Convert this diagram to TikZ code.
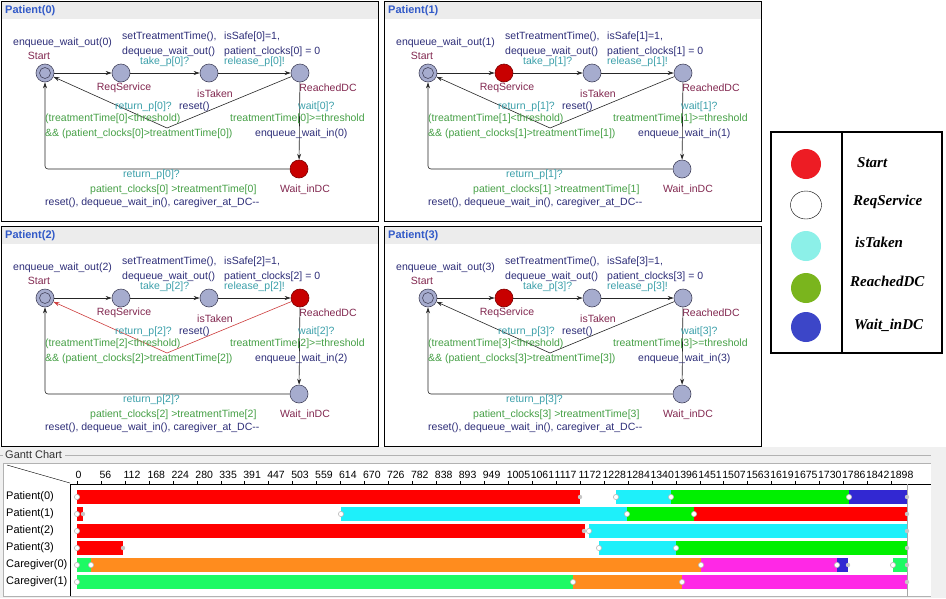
\documentclass[tikz,border=0pt]{standalone}
\usepackage{fontspec}
\setmainfont{Liberation Sans}
\newfontfamily\legendfont{Liberation Serif}
\usetikzlibrary{arrows.meta, positioning, shapes.geometric}

\definecolor{locfill}{RGB}{166,172,206}
\definecolor{locdraw}{RGB}{70,70,95}
\definecolor{activefill}{RGB}{200,0,0}
\definecolor{activedraw}{RGB}{125,0,0}
\definecolor{namecol}{RGB}{130,40,80}
\definecolor{assigncol}{RGB}{45,45,120}
\definecolor{synccol}{RGB}{60,160,170}
\definecolor{guardcol}{RGB}{70,160,70}
\definecolor{titlecol}{RGB}{50,90,200}
\definecolor{retred}{RGB}{205,60,60}
\definecolor{legred}{RGB}{237,28,36}
\definecolor{legcyan}{RGB}{140,240,232}
\definecolor{leggreen}{RGB}{122,181,29}
\definecolor{legblue}{RGB}{60,70,200}
\definecolor{gred}{RGB}{255,0,0}
\definecolor{gcyan}{RGB}{30,240,250}
\definecolor{ggreen}{RGB}{0,240,0}
\definecolor{gblue}{RGB}{50,40,210}
\definecolor{gorange}{RGB}{255,140,30}
\definecolor{gmagenta}{RGB}{255,40,230}
\definecolor{gspring}{RGB}{30,250,100}
\definecolor{ganttbg}{RGB}{240,240,240}

% one automaton panel: index, shift, ReqService / ReachedDC / Wait_inDC style, return edge style
\newcommand{\patientpanel}[6]{%
\begin{scope}[shift={#2}]
  \draw[panelbox] (1,1) rectangle (378,221);
  \fill[gray!15] (1.5,1.5) rectangle (377.5,19);
  \node[paneltitle] (title#1) at (5,11) {Patient(#1)};
  % locations
  \node[loc] (start#1) at (45,73) {};
  \node[loc, fill=none, minimum size=11pt] (starti#1) at (45,73) {};
  \node[loc, #3] (req#1) at (121,73) {};
  \node[loc] (taken#1) at (209,73) {};
  \node[loc, #4] (dc#1) at (300,73) {};
  \node[loc, #5] (wait#1) at (299,169) {};
  \coordinate (nail#1) at (167,128);
  \node[locname] (nstart#1) at (39,56) {Start};
  \node[locname] (nreq#1) at (124,88) {ReqService};
  \node[locname] (ntaken#1) at (215,94) {isTaken};
  \node[locname] (ndc#1) at (328,88) {ReachedDC};
  \node[locname] (nwait#1) at (305,190) {Wait\_inDC};
  % transitions
  \draw[trans] (start#1) -- (req#1);
  \draw[trans] (req#1) -- (taken#1);
  \draw[trans] (taken#1) -- (dc#1);
  \draw[trans] (dc#1) -- (wait#1);
  \draw[trans, #6] (dc#1) -- (nail#1) -- (start#1);
  \draw[trans, rounded corners=3pt] (wait#1) -| (start#1);
  % labels
  \node[assign] (inv#1) at (13,43) {enqueue\_wait\_out(#1)};
  \node[assign] (updA#1) at (122,37) {setTreatmentTime(),};
  \node[assign] (updB#1) at (122,52) {dequeue\_wait\_out()};
  \node[sync] (take#1) at (140,62) {take\_p[#1]?};
  \node[assign] (updC#1) at (224,37) {isSafe[#1]=1,};
  \node[assign] (updD#1) at (224,52) {patient\_clocks[#1] = 0};
  \node[sync] (rel#1) at (224,62) {release\_p[#1]!};
  \node[sync] (retA#1) at (115,107) {return\_p[#1]?};
  \node[assign] (rst#1) at (179,107) {reset()};
  \node[guard] (guardA#1) at (45,119) {(treatmentTime[#1]<threshold)};
  \node[guard] (guardB#1) at (45,134) {\&\& (patient\_clocks[#1]>treatmentTime[#1])};
  \node[sync] (wt#1) at (298,107) {wait[#1]?};
  \node[guard] (guardC#1) at (230,119) {treatmentTime[#1]>=threshold};
  \node[assign] (enq#1) at (255,134) {enqueue\_wait\_in(#1)};
  \node[sync] (retB#1) at (123,175) {return\_p[#1]?};
  \node[guard] (guardD#1) at (90,190) {patient\_clocks[#1] >treatmentTime[#1]};
  \node[assign] (updE#1) at (45,203) {reset(), dequeue\_wait\_in(), caregiver\_at\_DC{-}{-}};
\end{scope}}

\begin{document}
\begin{tikzpicture}[x=1pt, y=-1pt, font=\fontsize{10.5}{12}\selectfont,
  panelbox/.style={draw=black, line width=1pt, fill=white},
  paneltitle/.style={anchor=west, inner sep=0pt, text=titlecol, font=\fontsize{11}{12}\selectfont\bfseries},
  loc/.style={circle, draw=locdraw, fill=locfill, line width=0.6pt, minimum size=18pt, inner sep=0pt},
  activeloc/.style={fill=activefill, draw=activedraw},
  locname/.style={inner sep=0pt, text=namecol},
  lbl/.style={inner sep=0pt, anchor=west},
  assign/.style={lbl, text=assigncol},
  sync/.style={lbl, text=synccol},
  guard/.style={lbl, text=guardcol},
  trans/.style={draw=black!85, line width=0.6pt, -{Stealth[length=6pt, width=4pt]}},
  legdot/.style={circle, minimum size=30pt, inner sep=0pt},
  legtext/.style={anchor=west, inner sep=0pt, font=\legendfont\bfseries\itshape\fontsize{15}{16}\selectfont},
  rowlbl/.style={anchor=west, inner sep=0pt, font=\fontsize{11}{12}\selectfont},
  ticklbl/.style={anchor=west, inner sep=0pt},
  gdot/.style={fill=white, draw=gray!55, line width=0.6pt},
  enddot/.style={fill=gray!45}]
\useasboundingbox (0,0) rectangle (946,598);
\fill[white] (0,0) rectangle (946,598);

\patientpanel{0}{(0,0)}{}{}{activeloc}{}
\patientpanel{1}{(383,0)}{activeloc}{}{}{}
\patientpanel{2}{(0,225)}{}{activeloc}{}{retred}
\patientpanel{3}{(383,225)}{activeloc}{}{}{}

% legend
\draw[line width=2.5pt] (771,132) rectangle (942,353);
\draw[line width=2.5pt] (842,132) -- (842,353);
\node[legdot, fill=legred] (lstart) at (806,164) {};
\node[ellipse, draw=black, thin, fill=white, minimum width=31pt, minimum height=28pt, inner sep=0pt] (lreq) at (806,205) {};
\node[legdot, fill=legcyan] (ltaken) at (806,246) {};
\node[legdot, fill=leggreen] (ldc) at (806,288) {};
\node[legdot, fill=legblue] (lwait) at (806,327) {};
\node[legtext] (tstart) at (857,163) {Start};
\node[legtext] (treq) at (853,202) {ReqService};
\node[legtext] (ttaken) at (855,242) {isTaken};
\node[legtext] (tdc) at (850,281) {ReachedDC};
\node[legtext] (twait) at (854,325) {Wait\_inDC};

% gantt chart
\fill[ganttbg] (0,447) rectangle (946,598);
\fill[white] (3,463) rectangle (931,596);
\draw[gray!60] (3,463) -- (931,463) (3,596) -- (931,596) (3,463) -- (3,596);
\node[rowlbl, text=black!80] (gtitle) at (5,455) {Gantt Chart};
\draw[gray!60] (0,455) -- (3,455);
\draw[gray!60] (gtitle.east) ++(3,0) -- (931,455);
\draw (7,465) -- (70,483);
\draw (70,484) -- (931,484);
\draw (70,484) -- (70,596);
\draw[gray!70] (907,484) -- (907,596);
\foreach \v [count=\i from 0] in {0,56,112,168,224,280,335,391,447,503,559,614,670,726,782,838,893,949,1005,1061,1117,1172,1228,1284,1340,1396,1451,1507,1563,1619,1675,1730,1786,1842,1898} {
  \node[ticklbl] (tick\i) at ({75.5+23.95*\i},475) {\v};
  \draw ({77+23.95*\i},481) -- ({77+23.95*\i},484);
}
\foreach \n [count=\r from 0] in {Patient(0),Patient(1),Patient(2),Patient(3),Caregiver(0),Caregiver(1)}
  \node[rowlbl] (grow\r) at (6,{497+17*\r}) {\n};
\foreach \r/\a/\b/\c in {0/77/580/gred, 0/616/671/gcyan, 0/671/849/ggreen, 0/849/907/gblue,
    1/77/83/gred, 1/341/627/gcyan, 1/627/694/ggreen, 1/694/907/gred,
    2/77/585/gred, 2/589/907/gcyan,
    3/77/123/gred, 3/599/676/gcyan, 3/676/907/ggreen,
    4/77/91/gspring, 4/91/701/gorange, 4/701/837/gmagenta, 4/837/848/gblue, 4/893/907/gspring,
    5/77/573/gspring, 5/573/682/gorange, 5/682/907/gmagenta} {
  \fill[\c] (\a,{490+17*\r}) rectangle (\b,{504+17*\r});
}
\foreach \r/\a in {0/580, 1/83, 2/584, 3/123, 4/848, 0/907, 1/907, 2/907, 3/907, 4/907, 5/907}
  \fill[enddot] (\a,{497+17*\r}) circle[radius=2.2pt];
\foreach \r/\a in {0/77, 0/616, 0/671, 0/849, 1/77, 1/341, 1/627, 1/694, 2/77, 2/589,
    3/77, 3/599, 3/676, 4/77, 4/91, 4/701, 4/837, 4/893, 5/77, 5/573, 5/682}
  \draw[gdot] (\a,{497+17*\r}) circle[radius=2.6pt];
\end{tikzpicture}
\end{document}
